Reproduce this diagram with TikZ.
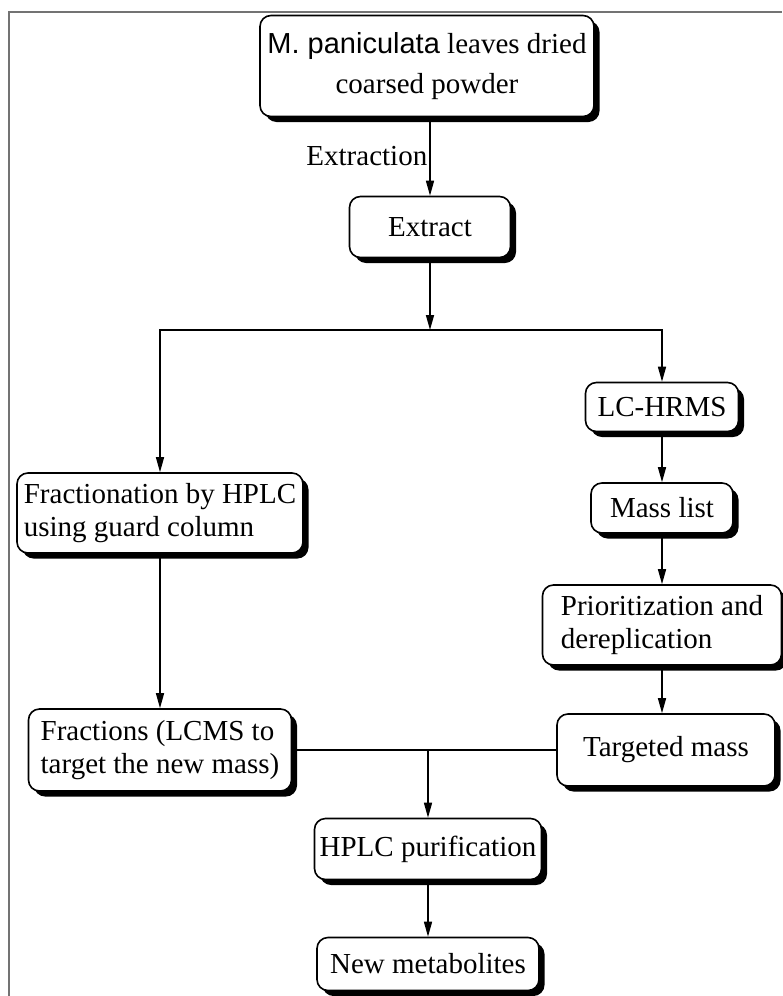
\documentclass[tikz,border=0pt]{standalone}
\usepackage{fontspec}
\setmainfont{Liberation Serif}
\newfontfamily\sansname{Liberation Sans}
\usetikzlibrary{arrows.meta,shadows}

\begin{document}
\begin{tikzpicture}[x=1pt, y=-1pt,
    box/.style={draw, line width=1.6pt, rounded corners=11pt, fill=white,
      drop shadow={shadow xshift=5.5pt, shadow yshift=-5.5pt, fill=black, opacity=1},
      font=\fontsize{29}{33}\selectfont, inner sep=4pt},
    arr/.style={line width=1.5pt, -{Triangle[length=15pt,width=8pt]}},
    link/.style={line width=1.5pt}]
  \useasboundingbox (0,0) rectangle (782,996);
  % frame
  \draw[black!55, line width=1.6pt] (9,996) -- (9,12) -- (782,12);

  \node[box, minimum width=334pt, minimum height=101pt, align=center, font=\fontsize{29}{40}\selectfont] (raw) at (427,66)
    {{\sansname M. paniculata} leaves dried\\coarsed powder};
  \node[box, minimum width=161pt, minimum height=61pt] (ext) at (430,227) {Extract};
  \coordinate (split) at (430,330);

  \node[box, minimum width=286pt, minimum height=80pt, align=left] (frac) at (160,513)
    {Fractionation by HPLC\\using guard column};
  \node[box, minimum width=263pt, minimum height=82pt, align=left] (fracs) at (160,750)
    {Fractions (LCMS to\\target the new mass)};

  \node[box, minimum width=153pt, minimum height=49pt] (lc) at (662,407) {LC-HRMS};
  \node[box, minimum width=142pt, minimum height=50pt] (mass) at (662,508) {Mass list};
  \node[box, minimum width=239pt, minimum height=80pt, align=left] (prio) at (662,625)
    {Prioritization and\\dereplication};
  \node[box, minimum width=218pt, minimum height=72pt] (targ) at (666,750) {Targeted mass};
  \coordinate (merge) at (428,750);

  \node[box, minimum width=227pt, minimum height=61pt] (hplc) at (428,849) {HPLC purification};
  \node[box, minimum width=222pt, minimum height=53pt] (newm) at (428,964) {New metabolites};

  % connectors
  \draw[arr] (raw.south -| ext.north) -- (ext.north)
    node[midway, left, font=\fontsize{29}{33}\selectfont, inner sep=2pt] (extlbl) {Extraction};
  \draw[arr] (ext.south) -- (split);
  \draw[arr] (split) -| (frac.north);
  \draw[arr] (split) -| (lc.north);
  \draw[arr] (frac.south) -- (fracs.north);
  \draw[arr] (lc.south) -- (mass.north);
  \draw[arr] (mass.south) -- (prio.north);
  \draw[arr] (prio.south) -- (prio.south |- targ.north);
  \draw[link] (fracs.east) -- (targ.west);
  \draw[arr] (merge) -- (hplc.north);
  \draw[arr] (hplc.south) -- (newm.north);
\end{tikzpicture}
\end{document}
